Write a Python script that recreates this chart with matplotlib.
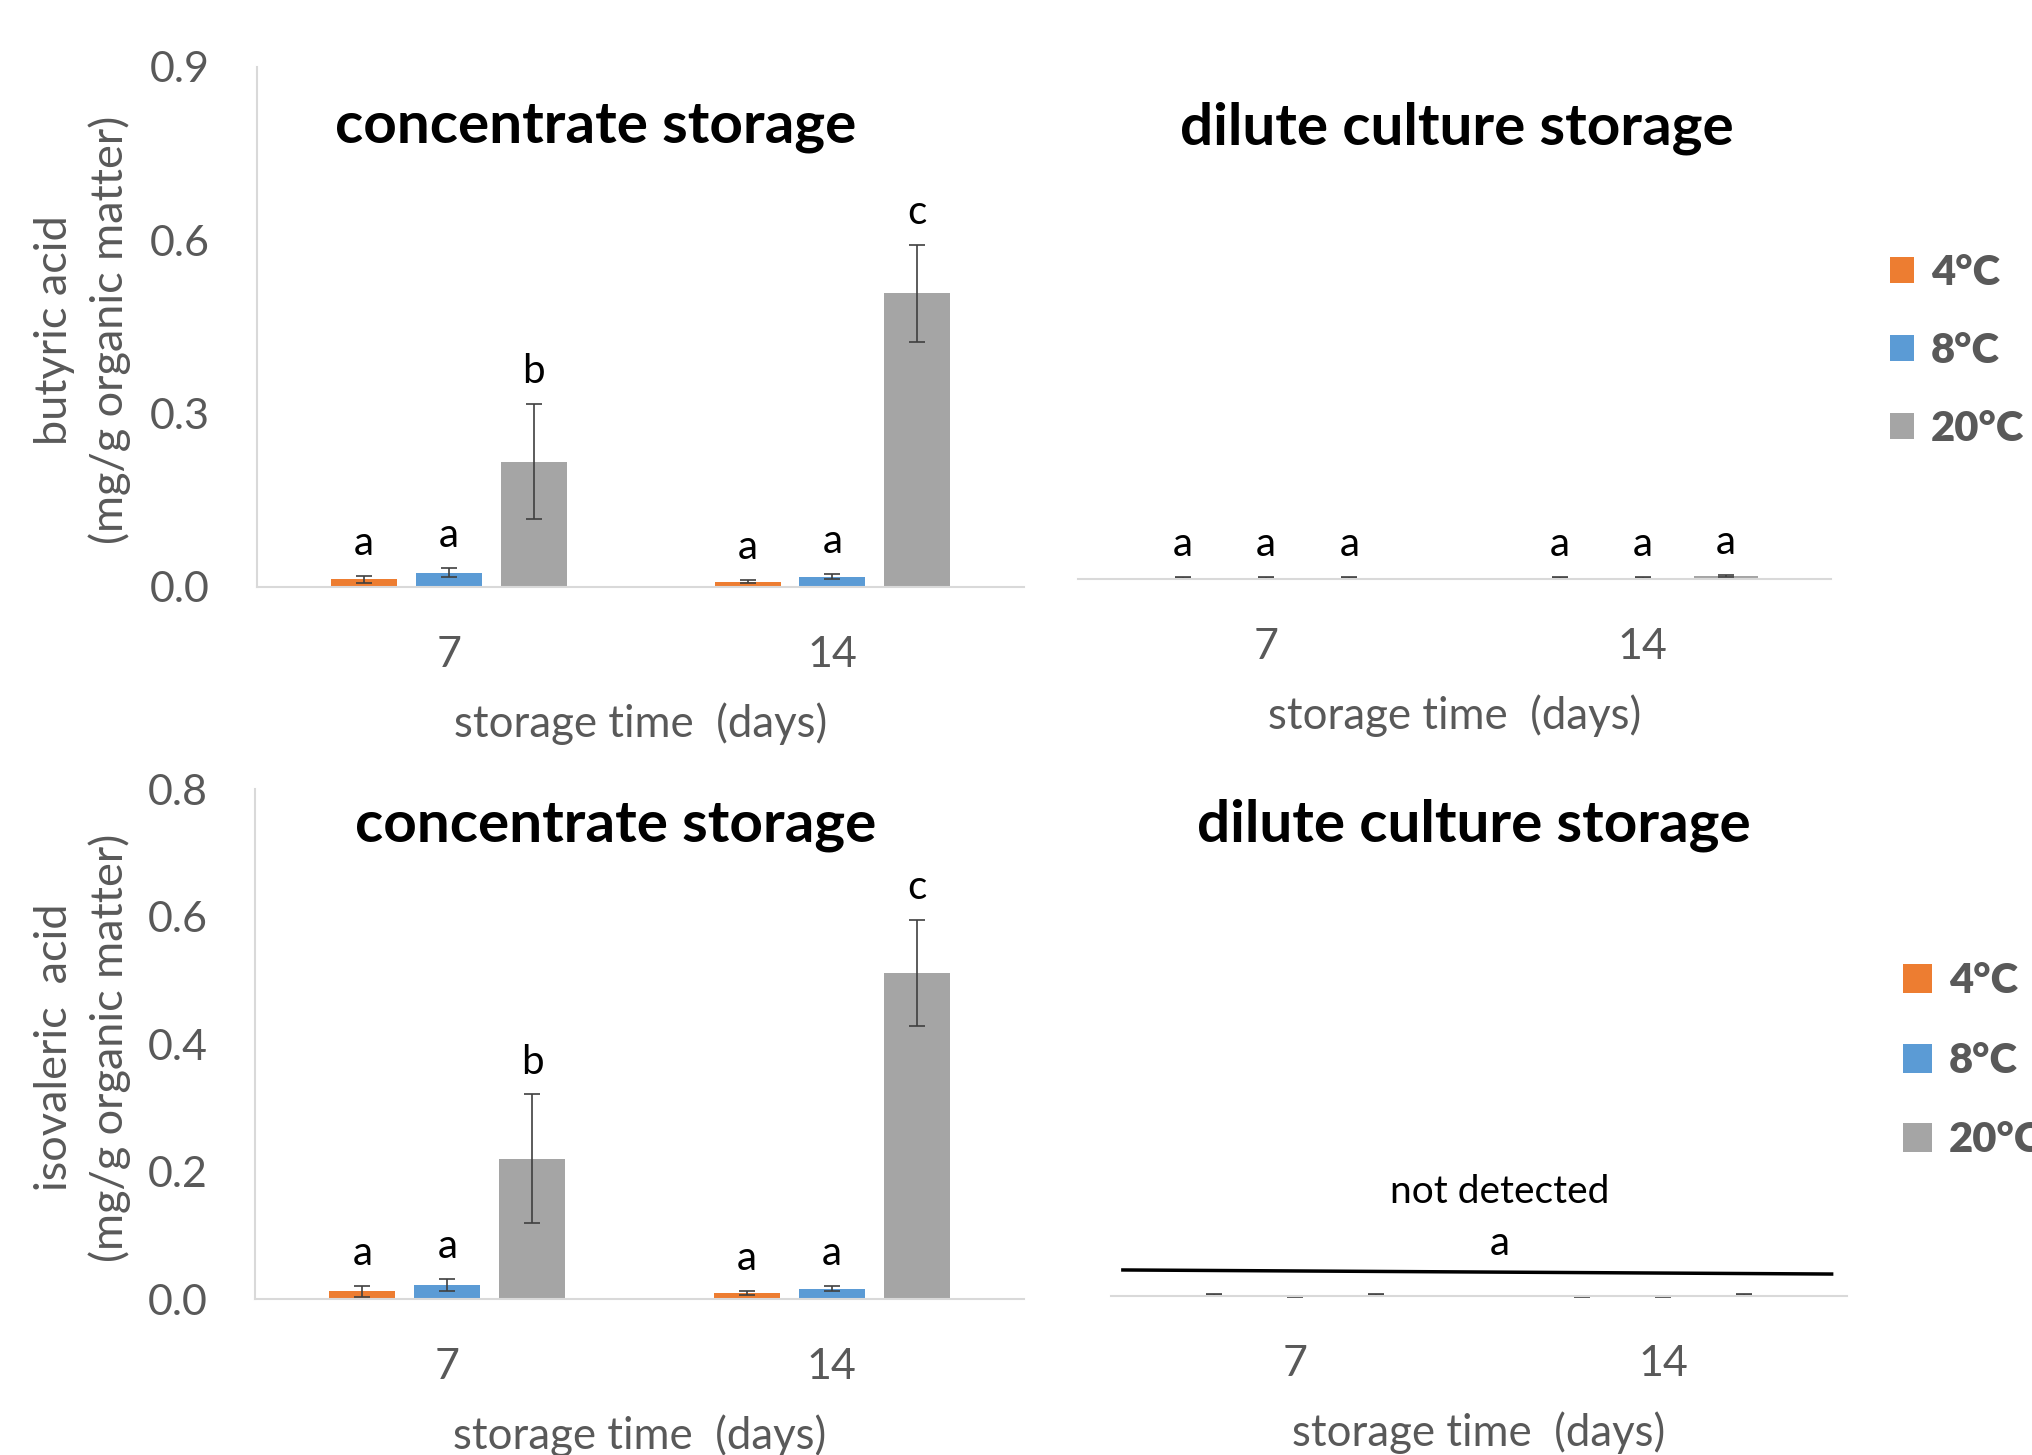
import numpy as np
import matplotlib
matplotlib.use('Agg')
import matplotlib.pyplot as plt

plt.rcParams['font.family'] = ['Lato', 'DejaVu Sans']

## data: rows are 4, 8, 20 degC ; columns are day 7, day 14
days = ['7', '14']
temps = ['4°C', '8°C', '20°C']
colors = ['#ED7D31', '#5B9BD5', '#A5A5A5']

butyric_conc = [[0.013, 0.009], [0.025, 0.018], [0.217, 0.508]]
butyric_conc_err = [[0.006, 0.003], [0.008, 0.004], [0.100, 0.084]]
butyric_conc_letters = [['a', 'a'], ['a', 'a'], ['b', 'c']]

butyric_dil = [[0.002, 0.002], [0.002, 0.002], [0.002, 0.005]]
butyric_dil_err = [[0.001, 0.001], [0.001, 0.001], [0.001, 0.002]]
butyric_dil_letters = [['a', 'a'], ['a', 'a'], ['a', 'a']]

isoval_conc = [[0.012, 0.010], [0.022, 0.016], [0.220, 0.511]]
isoval_conc_err = [[0.009, 0.003], [0.010, 0.004], [0.101, 0.083]]
isoval_conc_letters = [['a', 'a'], ['a', 'a'], ['b', 'c']]

isoval_dil = [[0.002, -0.001], [-0.001, -0.001], [0.002, 0.002]]
isoval_dil_err = [[0.001, 0.001], [0.001, 0.001], [0.001, 0.001]]

TXT = '#595959'
FS = 31


def draw_panel(ax, values, errs, letters, ylim, yticks, show_y):
    x = np.arange(len(days))
    offsets = [-0.221, 0.0, 0.221]
    bars = []
    for i in range(len(temps)):
        b = ax.bar(x + offsets[i], values[i], 0.172, color=colors[i], label=temps[i],
                   yerr=errs[i], capsize=6,
                   error_kw=dict(ecolor='#404040', elinewidth=1.2, capthick=1.2, clip_on=False))
        bars.append(b)
        if letters is not None:
            for j in range(len(days)):
                ax.annotate(letters[i][j], (x[j] + offsets[i], values[i][j] + errs[i][j]),
                            xytext=(0, 10), textcoords='offset points',
                            ha='center', va='bottom', fontsize=29, color='black')

    ax.set_xlim(-0.5, 1.5)
    ax.set_ylim(*ylim)
    ax.set_xticks(x)
    ax.set_xticklabels(days)
    ax.tick_params(axis='x', length=0, pad=35, labelsize=FS, labelcolor=TXT)
    ax.set_xlabel('storage time  (days)', fontsize=31.5, color=TXT, labelpad=21)

    for s in ['top', 'right']:
        ax.spines[s].set_visible(False)
    ax.spines['bottom'].set_color('#D9D9D9')
    ax.spines['bottom'].set_linewidth(1.5)
    if show_y:
        ax.spines['left'].set_color('#D9D9D9')
        ax.spines['left'].set_linewidth(1.5)
        ax.set_yticks(yticks)
        ax.set_yticklabels([f'{t:.1f}' for t in yticks])
        ax.tick_params(axis='y', length=0, pad=34, labelsize=FS, labelcolor=TXT)
    else:
        ax.spines['left'].set_visible(False)
        ax.set_yticks([])
    return bars


fig = plt.figure(figsize=(20.32, 14.55), dpi=100)

ax1 = fig.add_axes([0.1265, 0.5966, 0.3775, 0.3574])
ax2 = fig.add_axes([0.5305, 0.6021, 0.3706, 0.3574])
ax3 = fig.add_axes([0.1255, 0.1072, 0.3785, 0.3505])
ax4 = fig.add_axes([0.5468, 0.1093, 0.3622, 0.3505])

bars = draw_panel(ax1, butyric_conc, butyric_conc_err, butyric_conc_letters,
                  (0, 0.9), [0.0, 0.3, 0.6, 0.9], True)
draw_panel(ax2, butyric_dil, butyric_dil_err, butyric_dil_letters,
           (0, 0.9), [], False)
draw_panel(ax3, isoval_conc, isoval_conc_err, isoval_conc_letters,
           (0, 0.8), [0.0, 0.2, 0.4, 0.6, 0.8], True)
draw_panel(ax4, isoval_dil, isoval_dil_err, None, (0, 0.8), [], False)

# "not detected" marker line in the dilute isovaleric panel
ax4.plot([0.016, 0.979], [0.051, 0.043], transform=ax4.transAxes,
         color='black', lw=2.5, clip_on=False)
ax4.text(0.528, 0.203, 'not detected', transform=ax4.transAxes,
         ha='center', va='center', fontsize=28, color='black')
ax4.text(0.528, 0.102, 'a', transform=ax4.transAxes,
         ha='center', va='center', fontsize=29, color='black')

# panel titles
title_kw = dict(ha='center', va='center', fontsize=42, fontweight='bold', color='black')
fig.text(0.2933, 0.9134, 'concentrate storage', **title_kw)
fig.text(0.7170, 0.9120, 'dilute culture storage', **title_kw)
fig.text(0.3030, 0.4326, 'concentrate storage', **title_kw)
fig.text(0.7253, 0.4326, 'dilute culture storage', **title_kw)

# y labels
fig.text(0.0405, 0.773, 'butyric acid\n(mg/g organic matter)', rotation=90,
         ha='center', va='center', fontsize=32.5, color=TXT, linespacing=1.4)
fig.text(0.0405, 0.280, 'isovaleric  acid\n(mg/g organic matter)', rotation=90,
         ha='center', va='center', fontsize=32.5, color=TXT, linespacing=1.4)

# legends
leg_kw = dict(frameon=False, loc='upper left', borderpad=0, borderaxespad=0,
              handletextpad=0.4, labelcolor=TXT,
              prop=dict(size=30, weight='heavy'))
fig.legend(bars, temps, bbox_to_anchor=(0.930, 0.8255),
           handlelength=0.58, handleheight=0.58, labelspacing=0.96, **leg_kw)
fig.legend(bars, temps, bbox_to_anchor=(0.9365, 0.3388),
           handlelength=0.7, handleheight=0.7, labelspacing=1.0, **leg_kw)

fig.savefig('out.png', dpi=100)
